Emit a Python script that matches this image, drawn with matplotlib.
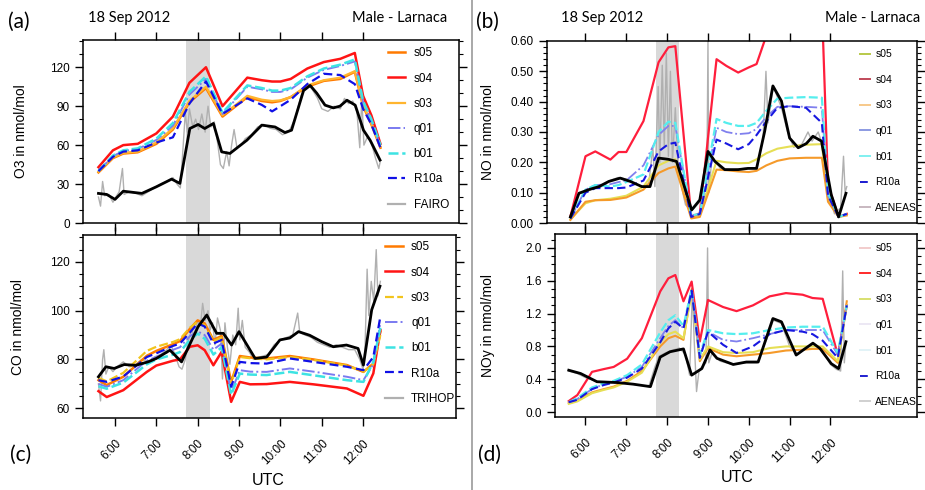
import matplotlib.pyplot as plt
from matplotlib.lines import Line2D
from matplotlib.ticker import MultipleLocator, FixedLocator
import numpy as np

plt.rcParams['font.family'] = ['Liberation Sans', 'DejaVu Sans']

names = ['s05', 's04', 's03', 'q01', 'b01', 'R10a']
hours = [6, 7, 8, 9, 10, 11, 12]
hour_labels = ['6:00', '7:00', '8:00', '9:00', '10:00', '11:00', '12:00']
band = (7.72, 8.30)

# ---------------- (a) O3 ----------------
t_a = [5.6, 5.95, 6.2, 6.55, 7.0, 7.4, 7.8, 8.2, 8.6, 9.2, 9.55, 9.8, 10.0, 10.25,
       10.65, 11.05, 11.45, 11.8, 12.0, 12.2, 12.42]
o3 = {
    's05': [39, 50, 53.5, 54.5, 61, 72, 93, 104, 82, 97, 94, 93, 94, 97, 105, 109.5, 111, 116.5, 90, 76, 58],
    's04': [43, 56, 60, 61, 69, 82, 108, 120, 90, 112, 110, 109, 109, 111, 119, 124, 126.5, 131, 98, 83, 61],
    's03': [39.5, 50.5, 54, 55, 62, 73, 94, 105, 83, 98, 95, 94, 94.5, 97, 106, 110, 112, 117, 91, 77, 59],
    'q01': [40, 51.5, 55.5, 57, 64, 75, 99, 111, 84, 105, 103, 101, 101, 103, 112, 118, 121, 124.5, 93, 79, 59],
    'b01': [40, 52, 56, 57.5, 65, 77, 101, 113, 85, 106, 104, 102, 102, 104, 113, 119, 122, 126, 94, 80, 60],
    'R10a': [40, 51, 55, 56, 62, 66, 92, 109, 84, 96, 91, 86, 90, 95, 107, 115, 114, 107, 88, 76, 58],
}
o3_mean_t = [5.6, 5.8, 6.0, 6.2, 6.65, 7.0, 7.37, 7.57, 7.81, 8.01, 8.17, 8.38, 8.58, 8.78, 9.19,
             9.55, 9.87, 10.11, 10.27, 10.56, 10.72, 10.88, 11.08, 11.28, 11.44, 11.61, 11.81,
             12.01, 12.17, 12.41]
o3_mean = [22.8, 22, 18.2, 24.5, 22.8, 27.9, 33.8, 30.5, 72.8, 75.9, 72.8, 76.7, 54.8, 53.6, 63.8,
           75.4, 74, 69.7, 71.5, 102, 106, 100, 90.8, 88.7, 90, 94.6, 90.8, 71.5, 63.8, 48.5]
fairo_t = [5.6, 5.65, 5.7, 5.75, 5.85, 5.95, 6.02, 6.1, 6.18, 6.22, 6.35, 6.5, 6.65, 6.8, 6.95,
           7.1, 7.25, 7.4, 7.5, 7.58, 7.65, 7.7, 7.75, 7.8, 7.88, 7.95, 8.02, 8.1, 8.18, 8.25,
           8.32, 8.4, 8.48, 8.55, 8.62, 8.7, 8.76, 8.82, 8.88, 8.95, 9.05, 9.15, 9.3, 9.45, 9.6,
           9.75, 9.9, 10.05, 10.2, 10.35, 10.5, 10.62, 10.75, 10.9, 11.0, 11.15, 11.3, 11.45,
           11.55, 11.65, 11.75, 11.85, 11.92, 11.97, 12.02, 12.1, 12.2, 12.3, 12.38, 12.42]
fairo = [20, 13, 32, 21, 22, 16, 20, 24, 42, 22, 24, 23, 21, 24, 27, 30, 32, 35, 30, 27, 60, 85,
         70, 88, 74, 80, 72, 84, 70, 90, 74, 78, 62, 45, 42, 55, 44, 60, 72, 58, 60, 65, 68, 74,
         76, 73, 72, 68, 70, 80, 98, 106, 104, 96, 88, 86, 90, 88, 96, 92, 94, 86, 58, 97, 60,
         66, 62, 50, 42, 48]

# ---------------- (c) CO ----------------
t_c = [5.6, 5.8, 6.2, 6.77, 7.0, 7.41, 7.57, 7.81, 8.0, 8.17, 8.38, 8.58, 8.81, 9.02, 9.27,
       9.67, 10.23, 10.8, 11.61, 12.01, 12.25, 12.42]
co = {
    's05': [71.5, 69.5, 72.9, 81.5, 83.5, 86.3, 87.5, 92.5, 96, 94.8, 88, 89.6, 70.8, 81.4, 80.8, 80.4, 81.4, 80, 77.7, 74.9, 78.3, 91.4],
    's04': [67, 64.6, 67.4, 74.9, 77.5, 79.5, 80, 85.2, 85.8, 83.8, 77.6, 83.1, 62.6, 70.8, 69.8, 69.9, 70.8, 69.8, 68.1, 65.1, 74.3, 92],
    's03': [72.5, 71, 74.5, 83.5, 85.2, 87.2, 88.3, 93, 95.5, 94, 87.5, 89, 70, 81, 80.5, 80, 81, 79.8, 77.5, 75, 78, 90],
    'q01': [70, 68.8, 71.5, 79.5, 81, 84, 85, 89.5, 91.5, 90, 84, 86.5, 66.5, 75.6, 75, 74.9, 76.3, 75, 72.9, 71.5, 78, 95],
    'b01': [69, 68, 70.5, 78, 80, 82, 83, 88, 90.6, 88.5, 82, 85, 65.5, 74.2, 73.8, 73.6, 74.9, 73.5, 71.5, 70.8, 79, 93],
    'R10a': [71.5, 70.8, 73, 81, 82.5, 85.6, 86.5, 91, 94.8, 93.5, 86.5, 88, 68.8, 79, 78.5, 78.3, 80.4, 79, 77, 75.6, 81, 97.6],
}
co_mean_t = [5.6, 5.78, 5.98, 6.22, 6.5, 6.8, 7.0, 7.33, 7.61, 8.01, 8.22, 8.46, 8.62, 8.82, 9.0,
             9.39, 9.67, 9.99, 10.23, 10.44, 10.71, 11.0, 11.28, 11.6, 11.88, 12.01, 12.21, 12.41]
co_mean = [72.9, 77, 76.3, 77.9, 77.6, 79, 80.4, 83.8, 79, 93.4, 98.2, 90.7, 90.7, 85.9, 91.4,
           80.4, 81, 88, 88.8, 91.4, 89.9, 87.3, 85.2, 85.9, 84.5, 77.7, 100.3, 110]
trihop_t = [5.6, 5.65, 5.7, 5.73, 5.78, 5.85, 5.95, 6.05, 6.2, 6.35, 6.5, 6.65, 6.8, 6.95, 7.1,
            7.25, 7.35, 7.45, 7.55, 7.62, 7.7, 7.78, 7.85, 7.92, 8.0, 8.07, 8.12, 8.18, 8.25,
            8.3, 8.36, 8.42, 8.48, 8.55, 8.6, 8.66, 8.72, 8.78, 8.85, 8.92, 8.98, 9.02, 9.08,
            9.15, 9.25, 9.35, 9.5, 9.7, 9.85, 10.0, 10.15, 10.3, 10.42, 10.47, 10.6, 10.75,
            10.9, 11.05, 11.2, 11.35, 11.5, 11.65, 11.8, 11.92, 12.0, 12.05, 12.1, 12.14, 12.2,
            12.26, 12.32, 12.36, 12.42]
trihop = [70, 63, 80, 84, 74, 77, 75, 77, 79, 77, 78, 80, 79, 81, 82, 84, 86, 82, 77, 76, 80, 88,
          92, 90, 96, 94, 103, 96, 100, 92, 95, 86, 97, 92, 72, 95, 85, 78, 90, 86, 101, 88, 96,
          85, 83, 80, 81, 82, 86, 88, 89, 90, 99, 91, 90, 89, 87, 86, 85, 86, 85, 84, 84, 80, 76,
          85, 117, 98, 112, 104, 125, 106, 112]

# ---------------- (b) NO ----------------
t_b = [5.63, 6.0, 6.24, 6.61, 6.81, 7.0, 7.42, 7.79, 8.03, 8.2, 8.59, 8.8, 9.21, 9.45, 9.74,
       10.0, 10.19, 10.43, 10.7, 11.0, 11.4, 11.79, 11.94, 12.2, 12.4]
no = {
    's05': [0.012, 0.065, 0.075, 0.08, 0.085, 0.09, 0.12, 0.19, 0.205, 0.21, 0.02, 0.025, 0.205, 0.2, 0.197, 0.198, 0.21, 0.23, 0.245, 0.252, 0.258, 0.26, 0.08, 0.02, 0.03],
    's04': [0.021, 0.22, 0.236, 0.209, 0.234, 0.234, 0.336, 0.53, 0.579, 0.583, 0.021, 0.032, 0.54, 0.518, 0.496, 0.513, 0.524, 0.618, 0.66, 0.7, 0.72, 0.72, 0.126, 0.02, 0.03],
    's03': [0.01, 0.07, 0.075, 0.076, 0.08, 0.084, 0.11, 0.165, 0.18, 0.186, 0.015, 0.02, 0.176, 0.174, 0.17, 0.168, 0.172, 0.19, 0.205, 0.213, 0.215, 0.215, 0.07, 0.02, 0.025],
    'q01': [0.015, 0.11, 0.125, 0.128, 0.135, 0.14, 0.19, 0.29, 0.32, 0.32, 0.025, 0.03, 0.314, 0.3, 0.293, 0.296, 0.31, 0.35, 0.383, 0.385, 0.383, 0.38, 0.09, 0.02, 0.03],
    'b01': [0.015, 0.11, 0.125, 0.12, 0.125, 0.135, 0.16, 0.3, 0.334, 0.33, 0.025, 0.03, 0.343, 0.33, 0.32, 0.32, 0.33, 0.37, 0.41, 0.413, 0.415, 0.413, 0.1, 0.02, 0.03],
    'R10a': [0.015, 0.1, 0.115, 0.115, 0.115, 0.117, 0.14, 0.236, 0.26, 0.265, 0.02, 0.03, 0.275, 0.262, 0.243, 0.26, 0.29, 0.335, 0.38, 0.385, 0.38, 0.33, 0.09, 0.02, 0.03],
}
no_mean_t = [5.63, 5.84, 6.08, 6.33, 6.57, 6.85, 7.1, 7.38, 7.58, 7.79, 8.03, 8.23, 8.6, 8.8, 9.0,
             9.17, 9.41, 9.74, 9.98, 10.19, 10.39, 10.59, 10.8, 11.0, 11.21, 11.41, 11.57, 11.78,
             12.02, 12.2, 12.38]
no_mean = [0.02, 0.098, 0.11, 0.12, 0.137, 0.148, 0.137, 0.12, 0.12, 0.214, 0.21, 0.203, 0.043,
           0.076, 0.236, 0.203, 0.176, 0.176, 0.18, 0.18, 0.303, 0.452, 0.402, 0.28, 0.248, 0.262,
           0.286, 0.27, 0.093, 0.02, 0.098]
no_obs_t = [5.63, 5.75, 5.85, 6.0, 6.2, 6.4, 6.6, 6.8, 7.0, 7.2, 7.4, 7.55, 7.65, 7.7, 7.78, 7.82,
            7.88, 7.93, 7.98, 8.03, 8.08, 8.13, 8.2, 8.27, 8.35, 8.45, 8.6, 8.8, 8.97, 9.0, 9.02,
            9.1, 9.3, 9.6, 9.9, 10.2, 10.35, 10.42, 10.47, 10.6, 10.8, 10.95, 11.1, 11.3, 11.45,
            11.55, 11.7, 11.8, 11.95, 12.1, 12.25, 12.32, 12.36, 12.4]
no_obs = [0.02, 0.08, 0.1, 0.1, 0.115, 0.12, 0.14, 0.15, 0.145, 0.13, 0.12, 0.13, 0.25, 0.12, 0.45,
          0.2, 0.52, 0.25, 0.56, 0.22, 0.5, 0.2, 0.38, 0.18, 0.12, 0.06, 0.04, 0.07, 0.1, 0.6, 0.1,
          0.22, 0.18, 0.175, 0.18, 0.18, 0.28, 0.5, 0.33, 0.45, 0.38, 0.3, 0.25, 0.26, 0.3, 0.27,
          0.3, 0.26, 0.1, 0.03, 0.05, 0.22, 0.1, 0.12]

# ---------------- (d) NOy ----------------
t_d = [5.59, 5.8, 6.16, 6.45, 6.69, 7.02, 7.38, 7.83, 8.03, 8.2, 8.4, 8.6, 8.8, 9.0, 9.37, 9.7,
       10.1, 10.51, 10.91, 11.32, 11.56, 11.81, 12.18, 12.4]
noy = {
    's05': [0.11, 0.14, 0.24, 0.28, 0.31, 0.38, 0.5, 0.8, 0.9, 0.93, 0.88, 1.5, 0.62, 0.78, 0.7, 0.68, 0.7, 0.72, 0.75, 0.76, 0.77, 0.77, 0.6, 1.35],
    's04': [0.134, 0.207, 0.49, 0.524, 0.55, 0.65, 0.9, 1.47, 1.63, 1.67, 1.35, 1.59, 0.86, 1.366, 1.28, 1.23, 1.3, 1.41, 1.45, 1.43, 1.39, 1.38, 0.695, 1.3],
    's03': [0.1, 0.13, 0.23, 0.27, 0.3, 0.37, 0.48, 0.85, 0.95, 0.98, 0.9, 1.45, 0.64, 0.8, 0.73, 0.72, 0.73, 0.78, 0.8, 0.8, 0.8, 0.8, 0.62, 1.3],
    'q01': [0.12, 0.16, 0.28, 0.34, 0.37, 0.43, 0.55, 0.9, 1.05, 1.12, 1.02, 1.48, 0.68, 0.98, 0.88, 0.86, 0.9, 0.95, 1.0, 1.0, 1.0, 1.0, 0.7, 1.3],
    'b01': [0.12, 0.17, 0.3, 0.35, 0.38, 0.45, 0.58, 0.97, 1.12, 1.18, 1.05, 1.5, 0.7, 1.0, 0.96, 0.95, 0.96, 1.0, 1.03, 1.04, 1.04, 1.04, 0.72, 1.3],
    'R10a': [0.12, 0.15, 0.28, 0.33, 0.36, 0.42, 0.53, 0.85, 1.02, 1.1, 1.02, 1.48, 0.66, 0.98, 0.82, 0.72, 0.8, 0.95, 1.0, 0.98, 0.95, 0.87, 0.66, 1.3],
}
noy_mean_t = [5.59, 5.88, 6.28, 6.77, 7.17, 7.59, 7.83, 8.07, 8.4, 8.6, 8.85, 9.05, 9.22, 9.62,
              9.94, 10.23, 10.59, 10.8, 11.16, 11.37, 11.57, 11.74, 12.02, 12.2, 12.38]
noy_mean = [0.51, 0.47, 0.37, 0.36, 0.34, 0.31, 0.67, 0.735, 0.77, 0.45, 0.53, 0.756, 0.655, 0.58,
            0.61, 0.61, 1.14, 1.1, 0.695, 0.77, 0.84, 0.777, 0.59, 0.53, 0.857]
noy_obs_t = [5.59, 5.8, 6.0, 6.3, 6.6, 7.0, 7.3, 7.55, 7.7, 7.8, 7.95, 8.1, 8.3, 8.45, 8.55, 8.62,
             8.66, 8.72, 8.78, 8.85, 8.95, 8.99, 9.02, 9.1, 9.3, 9.6, 9.9, 10.2, 10.45, 10.6, 10.8,
             11.0, 11.2, 11.4, 11.6, 11.8, 12.0, 12.15, 12.25, 12.3, 12.34, 12.38]
noy_obs = [0.5, 0.47, 0.42, 0.37, 0.36, 0.35, 0.33, 0.31, 0.55, 0.68, 0.72, 0.75, 0.78, 0.7, 0.45,
           1.5, 0.9, 0.25, 0.5, 0.55, 0.6, 2.0, 0.6, 0.72, 0.62, 0.58, 0.6, 0.6, 0.9, 1.12, 1.08,
           0.8, 0.7, 0.78, 0.83, 0.75, 0.58, 0.52, 0.5, 1.72, 0.6, 0.85]

# ---------------- styles ----------------
st_left = {
    's05': dict(color='#ff7a00', ls='-', lw=1.8),
    's04': dict(color='#ff1414', ls='-', lw=1.8),
    's03': dict(color='#ffb52e', ls='-', lw=1.6),
    'q01': dict(color='#7a7af0', ls='-.', lw=1.4),
    'b01': dict(color='#3de3e3', ls=(0, (4, 1.5)), lw=1.8),
    'R10a': dict(color='#1010e6', ls=(0, (4, 2)), lw=1.6),
}
st_c = dict(st_left)
st_c['s03'] = dict(color='#f2c41c', ls=(0, (4, 1.5)), lw=1.6)
st_b = {
    's05': dict(color='#e6df55', ls='-', lw=1.5),
    's04': dict(color='#ff1e3c', ls='-', lw=1.6),
    's03': dict(color='#f59a2a', ls='-', lw=1.5),
    'q01': dict(color='#8080ee', ls='-.', lw=1.3),
    'b01': dict(color='#55eeee', ls=(0, (4, 1.5)), lw=1.6),
    'R10a': dict(color='#1818e0', ls=(0, (4, 2)), lw=1.5),
}
st_d = dict(st_b)
st_d['s05'] = dict(color='#f59a2a', ls='-', lw=1.5)
st_d['s03'] = dict(color='#e6df55', ls='-', lw=1.5)
leg_b = ['#b8c94a', '#c04a5a', '#f7c98a', '#8c9ae2', '#80f0f0', '#1a1ad0', '#c8b8c0']
leg_d = ['#f2cccc', '#ff2a2a', '#d8e070', '#ece8f4', '#e2f3f7', '#2020d0', '#d0d0d0']

W, H = 925, 490
fig = plt.figure(figsize=(W / 100, H / 100), dpi=100)


def box(l, t, r, b):
    return [l / W, 1 - b / H, (r - l) / W, (b - t) / H]


def panel(rect, xlim, ylim, major, minor, ylabel, ylab_x, fmt):
    ax = fig.add_axes(rect)
    ax.set_xlim(*xlim)
    ax.set_ylim(*ylim)
    ax.axvspan(*band, color='#d9d9d9', lw=0, zorder=0)
    ax.xaxis.set_major_locator(FixedLocator(hours))
    ax.yaxis.set_major_locator(MultipleLocator(major))
    ax.yaxis.set_minor_locator(MultipleLocator(minor))
    ax.yaxis.set_major_formatter(plt.FuncFormatter(lambda v, p: fmt.format(v)))
    ax.tick_params(axis='both', which='major', direction='out', length=6, width=1,
                   top=True, right=True, labelsize=8.5)
    ax.tick_params(axis='y', which='minor', direction='out', length=3, width=0.8, right=True)
    ax.tick_params(axis='x', labelbottom=False)
    for s in ax.spines.values():
        s.set_linewidth(1.1)
    ax.set_ylabel(ylabel, fontsize=10)
    ax.yaxis.set_label_coords(ylab_x, 0.5)
    return ax


def draw(ax, t, series, styles, obs_t, obs, mean_t, mean):
    handles = []
    ax.plot(obs_t, obs, color='#b0b0b0', lw=1.0, zorder=1)
    for n in names:
        st = styles[n]
        h, = ax.plot(t, series[n], color=st['color'], ls=st['ls'], lw=st['lw'], zorder=2)
        handles.append(h)
    ax.plot(mean_t, mean, color='black', lw=2.0, zorder=3)
    return handles


def legend(ax, handles, labels, x, y, fs, hl=1.5, pad=0.7, sp=1.08):
    ax.legend(handles, labels, loc='upper left', bbox_to_anchor=(x, y), frameon=False,
              fontsize=fs, handlelength=hl, handletextpad=pad, labelspacing=sp,
              borderpad=0, borderaxespad=0)


def bottom_labels(ax):
    ax.tick_params(axis='x', labelbottom=True, pad=8)
    ax.set_xticklabels(hour_labels, rotation=45, ha='right', va='top',
                       rotation_mode='anchor', fontsize=8.5)


axA = panel(box(83, 40, 459, 223), (5.226, 14.32), (0, 141), 30, 10,
            'O3 in nmol/mol', -0.146, '{:.0f}')
hA = draw(axA, t_a, o3, st_left, fairo_t, fairo, o3_mean_t, o3_mean)
hA.append(Line2D([], [], color='#b0b0b0', lw=1.6))
legend(axA, hA, names + ['FAIRO'], 0.81, 0.96, 8.5, sp=1.12)

axC = panel(box(83, 235, 456, 418), (5.226, 14.25), (56, 131), 20, 5,
            'CO in nmol/mol', -0.155, '{:.0f}')
hC = draw(axC, t_c, co, st_c, trihop_t, trihop, co_mean_t, co_mean)
hC.append(Line2D([], [], color='#b0b0b0', lw=1.6))
legend(axC, hC, names + ['TRIHOP'], 0.81, 0.965, 8.5, sp=1.12)
bottom_labels(axC)

axB = panel(box(547, 41, 917, 223), (5.057, 14.12), (0, 0.6), 0.1, 0.02,
            'NO in nmol/mol', -0.14, '{:.2f}')
draw(axB, t_b, no, st_b, no_obs_t, no_obs, no_mean_t, no_mean)
hB = [Line2D([], [], color=c, lw=1.4, ls=(0, (4, 2)) if i == 5 else '-')
      for i, c in enumerate(leg_b)]
legend(axB, hB, names + ['AENEAS'], 0.845, 0.955, 7.5, hl=1.0, pad=0.5, sp=1.5)

axD = panel(box(555, 234, 917, 417), (5.253, 14.12), (-0.06, 2.17), 0.4, 0.1,
            'NOy in nmol/mol', -0.166, '{:.1f}')
draw(axD, t_d, noy, st_d, noy_obs_t, noy_obs, noy_mean_t, noy_mean)
hD = [Line2D([], [], color=c, lw=1.4, ls=(0, (4, 2)) if i == 5 else '-')
      for i, c in enumerate(leg_d)]
legend(axD, hD, names + ['AENEAS'], 0.842, 0.95, 7.5, hl=1.0, pad=0.5, sp=1.5)
bottom_labels(axD)


# annotations
def ftext(x, y, s, size, **kw):
    fig.text(x / W, 1 - y / H, s, fontsize=size, va='center', **kw)


ftext(8, 22, '(a)', 15, family='Lato')
ftext(476, 22, '(b)', 15, family='Lato')
ftext(10, 455, '(c)', 15, family='Lato')
ftext(478, 455, '(d)', 15, family='Lato')
for off in [0, 473]:
    ftext(88 + off, 18, '18 Sep 2012', 10.5, family='Lato')
    ftext(447 + off, 18, 'Male - Larnaca', 10.5, family='Lato', ha='right')
ftext(268, 480, 'UTC', 11.5, ha='center')
ftext(737, 477, 'UTC', 11.5, ha='center')

fig.add_artist(Line2D([472 / W, 472 / W], [0, 1], color='#9a9a9a', lw=1.2))

fig.savefig('out.png', dpi=100)
